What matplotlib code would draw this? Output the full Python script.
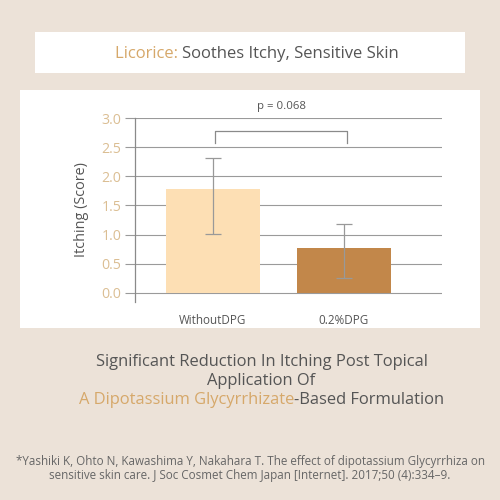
import matplotlib
matplotlib.use("Agg")
import matplotlib.pyplot as plt
from matplotlib.patches import Rectangle
from matplotlib.offsetbox import TextArea, HPacker, AnnotationBbox

plt.rcParams['font.family'] = ['Open Sans', 'DejaVu Sans']

groups = ["WithoutDPG", "0.2%DPG"]
means = [1.78, 0.77]
err_low = [1.01, 0.25]
err_high = [2.32, 1.19]
p_label = "p = 0.068"

bg = "#ECE2D8"
tan = "#D6A86A"
grey_txt = "#555555"
bar_colors = ["#FDDFB4", "#C2874A"]

fig = plt.figure(figsize=(5, 5), dpi=100)
fig.patch.set_facecolor(bg)

# white boxes
fig.patches.append(Rectangle((0.07, 0.854), 0.86, 0.082, transform=fig.transFigure,
                             facecolor="white", edgecolor="none", zorder=-2))
fig.patches.append(Rectangle((0.04, 0.344), 0.92, 0.476, transform=fig.transFigure,
                             facecolor="white", edgecolor="none", zorder=-2))

def colored_line(parts, xc, y, size):
    boxes = [TextArea(t, textprops=dict(color=c, fontsize=size)) for t, c in parts]
    pack = HPacker(children=boxes, align="baseline", pad=0, sep=0)
    ab = AnnotationBbox(pack, (xc, y), xycoords="figure fraction", frameon=False,
                        box_alignment=(0.5, 0.5))
    fig.add_artist(ab)

colored_line([("Licorice: ", tan), ("Soothes Itchy, Sensitive Skin", grey_txt)], 0.514, 0.891, 12)

ax = fig.add_axes([0.27, 0.396, 0.614, 0.368])
ax.set_facecolor("white")
x = [0, 1]
ax.bar(x, means, width=0.718, color=bar_colors, zorder=3)
yerr = [[m - lo for m, lo in zip(means, err_low)], [hi - m for m, hi in zip(means, err_high)]]
ax.errorbar(x, means, yerr=yerr, fmt="none", ecolor="#999999", elinewidth=0.9,
            capsize=5.5, capthick=0.9, zorder=4)

ax.set_xlim(-0.595, 1.748)
ax.set_ylim(-0.155, 3.0)
ax.set_yticks([0, 0.5, 1.0, 1.5, 2.0, 2.5, 3.0])
ax.set_yticklabels(["0.0", "0.5", "1.0", "1.5", "2.0", "2.5", "3.0"])
ax.grid(axis="y", color="#9a9a9a", linewidth=0.8, zorder=1)
ax.set_xticks(x)
ax.set_xticklabels(groups)
ax.tick_params(axis="y", colors="#9a9a9a", length=7, width=0.8, pad=3,
               labelsize=10.2, labelcolor="#DBBE93")
ax.tick_params(axis="x", length=0, pad=9, labelsize=8.4, labelcolor=grey_txt)
for s in ["top", "right", "bottom"]:
    ax.spines[s].set_visible(False)
ax.spines["left"].set_color("#8a8a8a")
ax.spines["left"].set_linewidth(0.9)
ax.set_ylabel("Itching (Score)", fontsize=10.4, color=grey_txt, labelpad=9)

# significance bracket
ax.plot([0.015, 0.015, 1.02, 1.02], [2.57, 2.78, 2.78, 2.57], color="#8a8a8a",
        linewidth=0.9, clip_on=False, zorder=4)
ax.text(0.52, 3.2, p_label, ha="center", va="center", fontsize=8.2, color=grey_txt,
        clip_on=False)

colored_line([("Significant Reduction In Itching Post Topical", grey_txt)], 0.523, 0.276, 11.9)
colored_line([("Application Of", grey_txt)], 0.523, 0.238, 11.9)
colored_line([("A Dipotassium Glycyrrhizate", tan), ("-Based Formulation", grey_txt)], 0.523, 0.200, 11.9)

fig.text(0.5, 0.078, "*Yashiki K, Ohto N, Kawashima Y, Nakahara T. The effect of dipotassium Glycyrrhiza on",
         ha="center", va="center", fontsize=8.4, color="#666666")
fig.text(0.5, 0.048, "sensitive skin care. J Soc Cosmet Chem Japan [Internet]. 2017;50 (4):334\u20139.",
         ha="center", va="center", fontsize=8.4, color="#666666")

fig.savefig("out.png", dpi=100, facecolor=bg)
